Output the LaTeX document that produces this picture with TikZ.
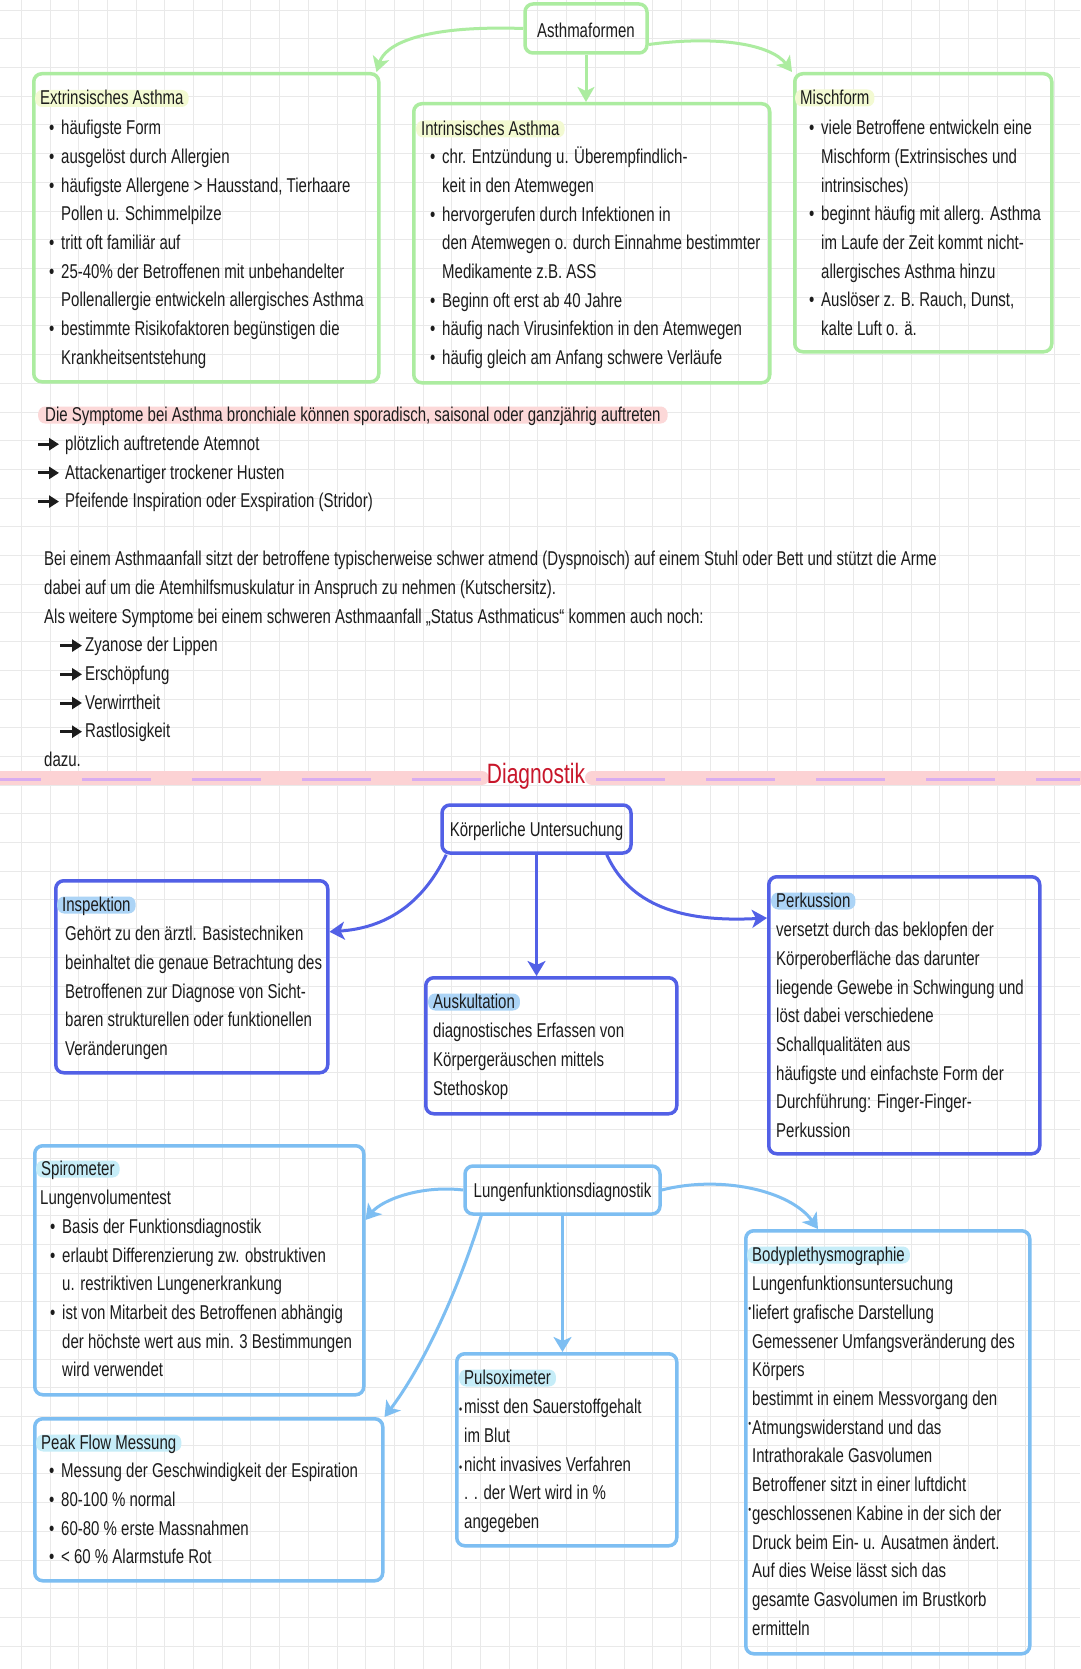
\documentclass[tikz,border=0pt]{standalone}
\usepackage{fontspec}
\setmainfont{Liberation Sans}[FakeStretch=0.75]
\usetikzlibrary{arrows.meta}
\definecolor{gc}{RGB}{172,236,160}
\definecolor{bc}{RGB}{82,96,230}
\definecolor{lbc}{RGB}{125,190,242}
\definecolor{ink}{RGB}{28,28,28}
\definecolor{gridc}{RGB}{233,233,233}
\definecolor{hly}{RGB}{243,250,210}
\definecolor{hlb}{RGB}{172,212,246}
\definecolor{hlc}{RGB}{198,237,248}
\definecolor{pinkh}{RGB}{252,216,216}
\definecolor{pinkband}{RGB}{252,210,212}
\definecolor{purp}{RGB}{216,172,240}
\definecolor{redc}{RGB}{200,22,42}
\newcommand\bodyfont{\fontsize{20}{28.7}\selectfont}
\newcommand\bl{\makebox[12pt][l]{•}}
\newcommand\ind{\hspace*{12pt}}
\newcommand\sbul{\makebox[5pt][l]{\fontsize{12}{12}\selectfont•}}
\newcommand\rdot{\llap{\raisebox{7pt}{\fontsize{11}{11}\selectfont•}\hspace{1pt}}}
\tikzset{
  gbox/.style={draw=gc, line width=3.5pt, rounded corners=8pt, inner sep=0pt, anchor=north west},
  bbox/.style={draw=bc, line width=3.5pt, rounded corners=8pt, inner sep=0pt, anchor=north west},
  lbbox/.style={draw=lbc, line width=3.5pt, rounded corners=8pt, inner sep=0pt, anchor=north west},
  cbox/.style={inner sep=0pt, font=\fontsize{20}{24}\selectfont, text=ink},
  txt/.style={anchor=north west, inner sep=0pt, align=left, font=\bodyfont, text=ink},
  ttl/.style={anchor=base west, inner xsep=5pt, inner ysep=2pt, text height=13pt, text depth=0pt, rounded corners=7pt, font=\fontsize{20}{24}\selectfont, text=ink},
  garrow/.style={draw=gc, line width=3pt, -{Stealth[length=15pt,width=17pt,inset=4pt]}},
  barrow/.style={draw=bc, line width=3pt, -{Stealth[length=15pt,width=18pt,inset=4pt]}},
  lbarrow/.style={draw=lbc, line width=3pt, -{Stealth[length=15pt,width=18pt,inset=4pt]}},
  blk/.style={draw=ink, line width=3pt, -{Triangle[length=10pt,width=12pt]}},
}
\begin{document}
\begin{tikzpicture}[x=1pt,y=-1pt]
\useasboundingbox (0,0) rectangle (1080,1669);
\fill[white] (0,0) rectangle (1080,1669);
% grid
\foreach \i in {0,...,37} {\draw[gridc, line width=1pt] (21.3+\i*28.7,0) -- (21.3+\i*28.7,1669);}
\foreach \j in {0,...,58} {\draw[gridc, line width=1pt] (0,10.2+\j*28.7) -- (1080,10.2+\j*28.7);}

% ===== Asthmaformen =====
\node[gbox, minimum width=122pt, minimum height=49pt, anchor=center] (asth) at (586,28.5) {};
\node[cbox] (asthT) at ([yshift=-2pt]asth.center) {Asthmaformen};
\node[gbox, minimum width=345pt, minimum height=308pt] (ext) at (32,72) {};
\node[gbox, minimum width=356pt, minimum height=279pt] (intr) at (412,102) {};
\node[gbox, minimum width=257pt, minimum height=278pt] (misch) at (793,72) {};

\draw[garrow] (asth.west) .. controls (420,25) and (385,45) .. ([xshift=-4pt]ext.north east);
\draw[garrow] (asth.south) -- (asth.south |- intr.north);
\draw[garrow] ([yshift=-16pt]asth.east) .. controls (720,35) and (772,45) .. ([xshift=-1pt]misch.north west);

\node[ttl, fill=hly] (extT) at (35,105) {Extrinsisches Asthma};
\node[txt] (extB) at (49,114.4) {\strut\bl häufigste Form\\
\bl ausgelöst durch Allergien\\
\bl häufigste Allergene > Hausstand, Tierhaare\\
\ind Pollen u. Schimmelpilze\\
\bl tritt oft familiär auf\\
\bl 25-40\% der Betroffenen mit unbehandelter\\
\ind Pollenallergie entwickeln allergisches Asthma\\
\bl bestimmte Risikofaktoren begünstigen die\\
\ind Krankheitsentstehung};

\node[ttl, fill=hly] (intrT) at (416,135.5) {Intrinsisches Asthma};
\node[txt] (intrB) at (430,143.4) {\strut\bl chr. Entzündung u. Überempfindlich-\\
\ind keit in den Atemwegen\\
\bl hervorgerufen durch Infektionen in\\
\ind den Atemwegen o. durch Einnahme bestimmter\\
\ind Medikamente z.B. ASS\\
\bl Beginn oft erst ab 40 Jahre\\
\bl häufig nach Virusinfektion in den Atemwegen\\
\bl häufig gleich am Anfang schwere Verläufe};

\node[ttl, fill=hly] (mischT) at (795,104.5) {Mischform};
\node[txt] (mischB) at (809,114.4) {\strut\bl viele Betroffene entwickeln eine\\
\ind Mischform (Extrinsisches und\\
\ind intrinsisches)\\
\bl beginnt häufig mit allerg. Asthma\\
\ind im Laufe der Zeit kommt nicht-\\
\ind allergisches Asthma hinzu\\
\bl Auslöser z. B. Rauch, Dunst,\\
\ind kalte Luft o. ä.};

% ===== Symptome =====
\node[ttl, fill=pinkh, inner xsep=7pt] (sympT) at (38,421.5) {Die Symptome bei Asthma bronchiale können sporadisch, saisonal oder ganzjährig auftreten};
\node[txt] (sympB) at (65,430.1) {\strut plötzlich auftretende Atemnot\\
Attackenartiger trockener Husten\\
Pfeifende Inspiration oder Exspiration (Stridor)};
\draw[blk] (38,444.2) -- (59,444.2);
\draw[blk] (38,472.9) -- (59,472.9);
\draw[blk] (38,501.6) -- (59,501.6);

\node[txt] (para) at (44,545.4) {\strut Bei einem Asthmaanfall sitzt der betroffene typischerweise schwer atmend (Dyspnoisch) auf einem Stuhl oder Bett und stützt die Arme\\
dabei auf um die Atemhilfsmuskulatur in Anspruch zu nehmen (Kutschersitz).\\
Als weitere Symptome bei einem schweren Asthmaanfall „Status Asthmaticus“ kommen auch noch:};
\node[txt] (items) at (85,631.5) {\strut Zyanose der Lippen\\
Erschöpfung\\
Verwirrtheit\\
Rastlosigkeit};
\draw[blk] (60,645.6) -- (82,645.6);
\draw[blk] (60,674.3) -- (82,674.3);
\draw[blk] (60,703.0) -- (82,703.0);
\draw[blk] (60,731.7) -- (82,731.7);
\node[txt] (dazu) at (44,746.3) {\strut dazu.};

% ===== Diagnostik divider =====
\draw[pinkband, line width=14pt, line cap=round] (0,778) -- (482,778);
\draw[pinkband, line width=14pt, line cap=round] (592,778) -- (1080,778);
\draw[purp, line width=3pt, dash pattern=on 69pt off 41pt, dash phase=28pt] (0,779) -- (482,779);
\draw[purp, line width=3pt, dash pattern=on 69pt off 41pt] (596,779) -- (1080,779);
\node[anchor=base, inner sep=0pt, font=\fontsize{28}{30}\selectfont, text=redc] (diag) at (536,783) {Diagnostik};

% ===== Körperliche Untersuchung =====
\node[bbox, minimum width=189pt, minimum height=48pt, anchor=center] (kor) at (536.5,829) {};
\node[cbox] (korT) at ([yshift=-2pt]kor.center) {Körperliche Untersuchung};
\node[bbox, minimum width=272pt, minimum height=192pt] (insp) at (54,879) {};
\node[bbox, minimum width=251pt, minimum height=136pt] (ausk) at (424,976) {};
\node[bbox, minimum width=271pt, minimum height=277pt] (perk) at (767,875) {};

\draw[barrow] ([xshift=6pt]kor.south west) .. controls (422,905) and (385,928) .. ([yshift=45pt]insp.east);
\draw[barrow] (kor.south) -- (kor.south |- ausk.north);
\draw[barrow] ([xshift=-26pt]kor.south east) .. controls (632,910) and (690,922) .. ([yshift=-43pt]perk.north west);

\node[ttl, fill=hlb] (inspT) at (57,911.5) {Inspektion};
\node[txt] (inspB) at (65,920.4) {\strut Gehört zu den ärztl. Basistechniken\\
beinhaltet die genaue Betrachtung des\\
Betroffenen zur Diagnose von Sicht-\\
baren strukturellen oder funktionellen\\
Veränderungen};

\node[ttl, fill=hlb] (auskT) at (428,1008.5) {Auskultation};
\node[txt] (auskB) at (433,1017.4) {\strut diagnostisches Erfassen von\\
Körpergeräuschen mittels\\
Stethoskop};

\node[ttl, fill=hlb] (perkT) at (771,907.5) {Perkussion};
\node[txt] (perkB) at (776,916.4) {\strut versetzt durch das beklopfen der\\
Körperoberfläche das darunter\\
liegende Gewebe in Schwingung und\\
löst dabei verschiedene\\
Schallqualitäten aus\\
häufigste und einfachste Form der\\
Durchführung: Finger-Finger-\\
Perkussion};

% ===== Lungenfunktionsdiagnostik =====
\node[lbbox, minimum width=195pt, minimum height=48pt, anchor=center] (lung) at (562.5,1190) {};
\node[cbox] (lungT) at ([yshift=-2pt]lung.center) {Lungenfunktionsdiagnostik};
\node[lbbox, minimum width=329pt, minimum height=249pt] (spiro) at (33,1144) {};
\node[lbbox, minimum width=348pt, minimum height=162pt] (peak) at (33,1417) {};
\node[lbbox, minimum width=220pt, minimum height=192pt] (puls) at (455,1352) {};
\node[lbbox, minimum width=284pt, minimum height=423pt] (body) at (744,1229) {};

\draw[lbarrow] (lung.west) .. controls (420,1185) and (382,1200) .. ([yshift=-76pt]spiro.north east);
\draw[lbarrow] ([xshift=18pt]lung.south west) .. controls (455,1300) and (420,1370) .. (peak.north east);
\draw[lbarrow] (lung.south) -- (lung.south |- puls.north);
\draw[lbarrow] (lung.east) .. controls (720,1175) and (790,1190) .. ([xshift=74pt]body.north west);

\node[ttl, fill=hlc] (spiroT) at (36,1175.5) {Spirometer};
\node[txt] (spiroB) at (40,1184.4) {\strut Lungenvolumentest\\
\hspace*{10pt}\bl Basis der Funktionsdiagnostik\\
\hspace*{10pt}\bl erlaubt Differenzierung zw. obstruktiven\\
\hspace*{22pt}u. restriktiven Lungenerkrankung\\
\hspace*{10pt}\bl ist von Mitarbeit des Betroffenen abhängig\\
\hspace*{22pt}der höchste wert aus min. 3 Bestimmungen\\
\hspace*{22pt}wird verwendet};

\node[ttl, fill=hlc] (peakT) at (36,1449.5) {Peak Flow Messung};
\node[txt] (peakB) at (49,1457.4) {\strut\bl Messung der Geschwindigkeit der Espiration\\
\bl 80-100 \% normal\\
\bl 60-80 \% erste Massnahmen\\
\bl < 60 \% Alarmstufe Rot};

\node[ttl, fill=hlc] (pulsT) at (459,1384.5) {Pulsoximeter};
\node[txt] (pulsB) at (459,1393.4) {\strut\sbul misst den Sauerstoffgehalt\\
\hspace*{5pt}im Blut\\
\sbul nicht invasives Verfahren\\
\hspace*{5pt}. . der Wert wird in \%\\
\hspace*{5pt}angegeben};

\node[ttl, fill=hlc] (bodyT) at (747,1261.5) {Bodyplethysmographie};
\node[txt] (bodyB) at (752,1270.4) {\strut Lungenfunktionsuntersuchung\\
\rdot liefert grafische Darstellung\\
Gemessener Umfangsveränderung des\\
Körpers\\
bestimmt in einem Messvorgang den\\
\rdot Atmungswiderstand und das\\
Intrathorakale Gasvolumen\\
Betroffener sitzt in einer luftdicht\\
\rdot geschlossenen Kabine in der sich der\\
Druck beim Ein- u. Ausatmen ändert.\\
Auf dies Weise lässt sich das\\
gesamte Gasvolumen im Brustkorb\\
ermitteln};
\end{tikzpicture}
\end{document}
